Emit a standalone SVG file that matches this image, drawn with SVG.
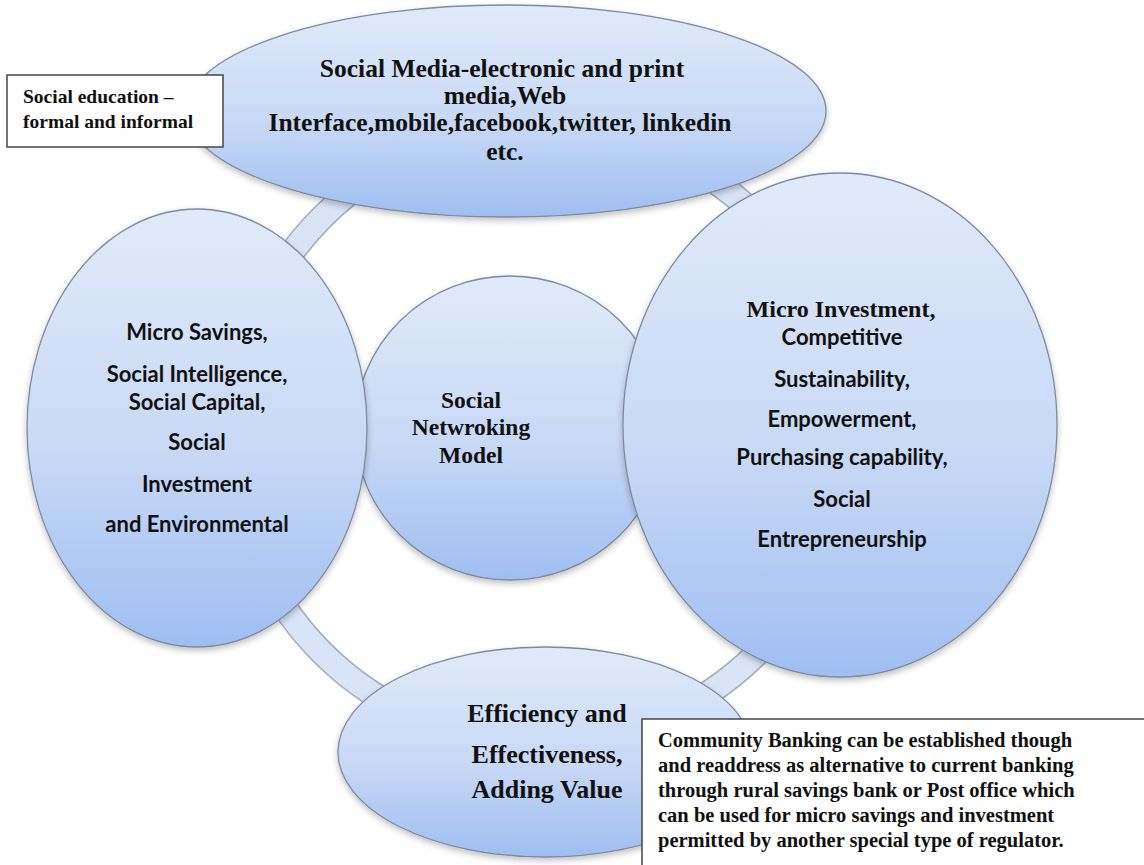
<svg xmlns="http://www.w3.org/2000/svg" width="1144" height="865" viewBox="0 0 1144 865">
<defs>
<linearGradient id="g" x1="0" y1="0" x2="0" y2="1">
<stop offset="0" stop-color="#e1eaf9"/>
<stop offset="0.55" stop-color="#c8d9f6"/>
<stop offset="1" stop-color="#9fbef1"/>
</linearGradient>
<filter id="sh" x="-10%" y="-10%" width="120%" height="125%">
<feDropShadow dx="0" dy="3" stdDeviation="3" flood-color="#000" flood-opacity="0.25"/>
</filter>
<style>
.node{fill:url(#g);stroke:#7d8aa0;stroke-width:1.3;filter:url(#sh)}
.serif{font-family:"Liberation Serif","Times New Roman",serif;font-weight:bold;fill:#111}
.sans{font-family:Lato,"Open Sans","Liberation Sans",sans-serif;font-weight:bold;fill:#111}
.box{fill:#fff;stroke:#444;stroke-width:1.5}
</style>
</defs>
<rect width="1144" height="865" fill="#fff"/>
<g id="connectors">
<circle cx="540" cy="435" r="308" fill="none" stroke="#a3abba" stroke-width="26"/>
<circle cx="540" cy="435" r="308" fill="none" stroke="#dae4f7" stroke-width="23"/>
</g>
<g id="node-top">
<ellipse class="node" cx="506" cy="111" rx="320" ry="106"/>
<text class="serif" font-size="25.5" text-anchor="middle"><tspan x="502" y="77">Social Media-electronic and print</tspan><tspan x="505" y="104">media,Web</tspan><tspan x="500" y="131">Interface,mobile,facebook,twitter,  linkedin</tspan><tspan x="505" y="160">etc.</tspan></text>
</g>
<g id="node-center">
<ellipse class="node" cx="510" cy="428" rx="155" ry="152"/>
<text class="serif" font-size="23.5" text-anchor="middle"><tspan x="471" y="408">Social</tspan><tspan x="471" y="435">Netwroking</tspan><tspan x="471" y="463">Model</tspan></text>
</g>
<g id="node-left">
<ellipse class="node" cx="197" cy="428" rx="170" ry="219"/>
<text class="sans" font-size="22" text-anchor="middle"><tspan x="197" y="340">Micro Savings,</tspan><tspan x="197" y="382">Social Intelligence,</tspan><tspan x="197" y="410">Social  Capital,</tspan><tspan x="197" y="450">Social</tspan><tspan x="197" y="492">Investment</tspan><tspan x="197" y="532">and Environmental</tspan></text>
</g>
<g id="node-right">
<ellipse class="node" cx="840" cy="425" rx="217" ry="252"/>
<text class="serif" font-size="24" text-anchor="middle" x="841" y="317">Micro Investment,</text>
<text class="sans" font-size="22" text-anchor="middle"><tspan x="842" y="345">Competitive</tspan><tspan x="842" y="387">Sustainability,</tspan><tspan x="842" y="427">Empowerment,</tspan><tspan x="842" y="465">Purchasing capability,</tspan><tspan x="842" y="507">Social</tspan><tspan x="842" y="547">Entrepreneurship</tspan></text>
</g>
<g id="node-bottom">
<ellipse class="node" cx="545" cy="752" rx="207" ry="105"/>
<text class="serif" font-size="26" text-anchor="middle"><tspan x="547" y="722">Efficiency and</tspan><tspan x="547" y="763">Effectiveness,</tspan><tspan x="547" y="798">Adding Value</tspan></text>
</g>
<g id="box-education">
<rect class="box" x="7" y="75" width="216" height="72"/>
<text class="serif" font-size="19.5"><tspan x="23" y="103">Social education –</tspan><tspan x="23" y="128">formal and informal</tspan></text>
</g>
<g id="box-community">
<rect class="box" x="642" y="719" width="520" height="160"/>
<text class="serif" font-size="20.5"><tspan x="658" y="747">Community Banking can be established though</tspan><tspan x="658" y="772">and readdress as alternative to current banking</tspan><tspan x="658" y="797">through rural savings bank or Post office which</tspan><tspan x="658" y="822">can be used for micro savings and investment</tspan><tspan x="658" y="847">permitted by another special type of regulator.</tspan></text>
</g>
</svg>
